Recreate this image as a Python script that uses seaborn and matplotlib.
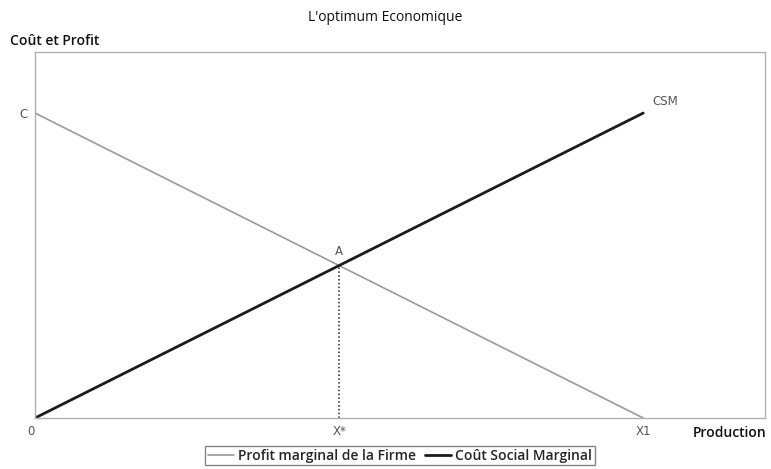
import matplotlib
matplotlib.use('Agg')
import matplotlib.pyplot as plt
import seaborn as sns
import pandas as pd

# data
production = [0, 100]
profit_marginal = [100, 0]
cout_social = [0, 100]
x_star = 50
a_value = 50
xtick_pos = [0, 50, 100]
xtick_labels = ['0', 'X*', 'X1']
ytick_pos = [100]
ytick_labels = ['C']

sns.set_style('white')
plt.rcParams['font.family'] = ['Open Sans', 'DejaVu Sans']

df = pd.DataFrame({'x': production, 'profit': profit_marginal, 'csm': cout_social})

fig = plt.figure(figsize=(7.71, 4.69), dpi=100)
ax = fig.add_axes([0.0454, 0.1087, 0.9466, 0.7803])

sns.lineplot(data=df, x='x', y='profit', ax=ax, color='#9a9a9a', linewidth=1.2,
             label='Profit marginal de la Firme')
sns.lineplot(data=df, x='x', y='csm', ax=ax, color='#1a1a1a', linewidth=2.0,
             label='Coût Social Marginal')
ax.plot([x_star, x_star], [0, a_value], color='#222222', linestyle=(0, (1, 1.5)), linewidth=1.1)

ax.set_xlim(0, 120)
ax.set_ylim(0, 120)
ax.set_xticks(xtick_pos)
ax.set_xticklabels(xtick_labels)
ax.set_yticks(ytick_pos)
ax.set_yticklabels(ytick_labels)
ax.tick_params(axis='both', length=0, labelsize=8.5, colors='#555555', pad=5)
for lab in ax.get_xticklabels() + ax.get_yticklabels():
    lab.set_family('DejaVu Sans')
ax.get_xticklabels()[0].set_horizontalalignment('right')

for s in ax.spines.values():
    s.set_color('#b0b0b0')
    s.set_linewidth(1.0)

ax.set_xlabel('')
ax.set_ylabel('')
ax.text(x_star, a_value + 2.5, 'A', ha='center', va='bottom', fontsize=8.5, color='#555555',
        family='DejaVu Sans')
ax.text(production[-1] + 1.5, cout_social[-1] + 1.5, 'CSM', ha='left', va='bottom', fontsize=8.5,
        color='#555555', family='DejaVu Sans')

fig.text(0.5, 0.962, "L'optimum Economique", ha='center', va='center', fontsize=10, color='#111111')
fig.text(0.013, 0.913, 'Coût et Profit', ha='left', va='center', fontsize=10, color='#111111',
         fontweight='semibold')
fig.text(0.994, 0.077, 'Production', ha='right', va='center', fontsize=10, color='#111111',
         fontweight='semibold')

leg = ax.legend(loc='upper center', bbox_to_anchor=(0.5, -0.076), ncol=2, frameon=True,
                fancybox=False, fontsize=10, handlelength=1.9, handletextpad=0.3,
                columnspacing=0.6, borderpad=0.2, borderaxespad=0)
leg.get_frame().set_edgecolor('#666666')
leg.get_frame().set_linewidth(1.0)
for t in leg.get_texts():
    t.set_fontweight('semibold')

fig.savefig('out.png', dpi=100)
